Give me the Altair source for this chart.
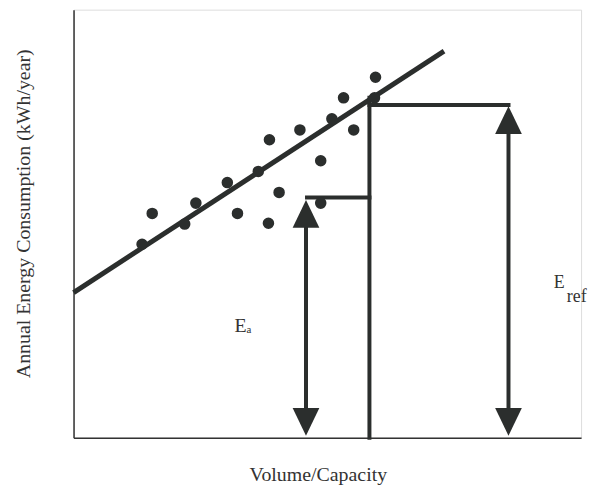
import altair as alt
import pandas as pd

# Scatter data (volume/capacity vs annual energy, arbitrary schematic units)
point_x = [59.5, 53.2, 50.9, 55.2, 44.6, 38.6, 48.7, 36.4, 30.3, 40.5, 24.1, 48.7, 32.3, 15.5, 21.9, 38.4, 13.5, 59.3]
point_y = [84.2, 79.4, 74.5, 71.9, 71.9, 69.6, 64.7, 62.2, 59.6, 57.3, 54.8, 54.8, 52.4, 52.4, 49.9, 50.1, 45.2, 79.4]

# Regression line end points
fit_x = [0.0, 73.0]
fit_y = [33.9, 90.3]

# Construction lines (start/end)
seg_x1 = [58.3, 58.3, 46.0, 45.8, 85.7]
seg_y1 = [0.0, 77.7, 56.1, 3.7, 3.7]
seg_x2 = [58.3, 85.7, 58.3, 45.8, 85.7]
seg_y2 = [79.4, 77.7, 56.1, 52.3, 74.2]

# Arrow heads
head_x = [45.8, 85.7, 45.8, 85.7]
head_y = [52.3, 74.2, 3.7, 3.7]
head_dir = ["up", "up", "down", "down"]

# Labels
big_label_text = ["E"]
big_label_x = [31.7]
big_label_y = [24.6]
sub_label_text = ["a"]
sub_label_x = [34.1]
sub_label_y = [24.4]
ref_label_text = ["E", "ref"]
ref_label_x = [94.6, 97.2]
ref_label_y = [35.0, 31.6]

INK = "#2b2e2d"
FONT = "Liberation Serif"

xs = alt.Scale(domain=[0, 100], nice=False, zero=False)
ys = alt.Scale(domain=[0, 100], nice=False, zero=False)

pts = pd.DataFrame({"x": point_x, "y": point_y})
fit = pd.DataFrame({"x": [fit_x[0]], "y": [fit_y[0]], "x2": [fit_x[1]], "y2": [fit_y[1]]})
segs = pd.DataFrame({"x": seg_x1, "y": seg_y1, "x2": seg_x2, "y2": seg_y2})
heads = pd.DataFrame({"x": head_x, "y": head_y, "dir": head_dir})
big = pd.DataFrame({"x": big_label_x, "y": big_label_y, "t": big_label_text})
sub = pd.DataFrame({"x": sub_label_x, "y": sub_label_y, "t": sub_label_text})
ref = pd.DataFrame({"x": ref_label_x, "y": ref_label_y, "t": ref_label_text})

x_axis = alt.Axis(
    title="Volume/Capacity", ticks=False, labels=False, grid=False,
    domainColor="#333333", domainWidth=1.5,
    titleFont=FONT, titleFontSize=20, titleFontWeight="normal", titleColor="#333333",
    titleX=246, titleY=43, titleBaseline="alphabetic", titleAlign="center",
)
y_axis = alt.Axis(
    title="Annual Energy Consumption (kWh/year)", ticks=False, labels=False, grid=False,
    domainColor="#333333", domainWidth=1.5,
    titleFont=FONT, titleFontSize=20, titleFontWeight="normal", titleColor="#333333",
    titleX=-44, titleY=205, titleAngle=-90, titleBaseline="alphabetic", titleAlign="center",
)

base_axes = alt.Chart(pts).mark_point(opacity=0).encode(
    x=alt.X("x:Q", scale=xs, axis=x_axis),
    y=alt.Y("y:Q", scale=ys, axis=y_axis),
)

scatter = alt.Chart(pts).mark_point(filled=True, size=135, color=INK, opacity=1, shape="circle").encode(
    x=alt.X("x:Q", scale=xs), y=alt.Y("y:Q", scale=ys)
)

fit_line = alt.Chart(fit).mark_rule(color=INK, strokeWidth=5, strokeCap="butt").encode(
    x=alt.X("x:Q", scale=xs), y=alt.Y("y:Q", scale=ys), x2="x2:Q", y2="y2:Q"
)

seg_lines = alt.Chart(segs).mark_rule(color=INK, strokeWidth=4, strokeCap="square").encode(
    x=alt.X("x:Q", scale=xs), y=alt.Y("y:Q", scale=ys), x2="x2:Q", y2="y2:Q"
)

UP = "M0,-1L-0.96,1L0.96,1Z"
DOWN = "M0,1L-0.96,-1L0.96,-1Z"
arrow_heads = alt.Chart(heads).mark_point(filled=True, size=784, color=INK, opacity=1, strokeWidth=0).encode(
    x=alt.X("x:Q", scale=xs), y=alt.Y("y:Q", scale=ys),
    shape=alt.Shape("dir:N", scale=alt.Scale(domain=["up", "down"], range=[UP, DOWN]), legend=None),
)

big_text = alt.Chart(big).mark_text(font=FONT, fontSize=20, align="left", baseline="alphabetic", color="#333333").encode(
    x=alt.X("x:Q", scale=xs), y=alt.Y("y:Q", scale=ys), text="t:N"
)
sub_text = alt.Chart(sub).mark_text(font=FONT, fontSize=11, align="left", baseline="alphabetic", color="#333333").encode(
    x=alt.X("x:Q", scale=xs), y=alt.Y("y:Q", scale=ys), text="t:N"
)
ref_text = alt.Chart(ref).mark_text(font=FONT, fontSize=18, align="left", baseline="alphabetic", color="#333333").encode(
    x=alt.X("x:Q", scale=xs), y=alt.Y("y:Q", scale=ys), text="t:N"
)

chart = alt.layer(
    base_axes, fit_line, seg_lines, arrow_heads, scatter, big_text, sub_text, ref_text
).properties(
    width=511, height=431,
    autosize=alt.AutoSizeParams(type="none"),
    padding={"left": 66, "top": 0, "right": 10, "bottom": 50},
).configure_view(stroke=None).configure(background="white")

chart.save("out.html", embed_options={"renderer": "svg", "actions": False})
